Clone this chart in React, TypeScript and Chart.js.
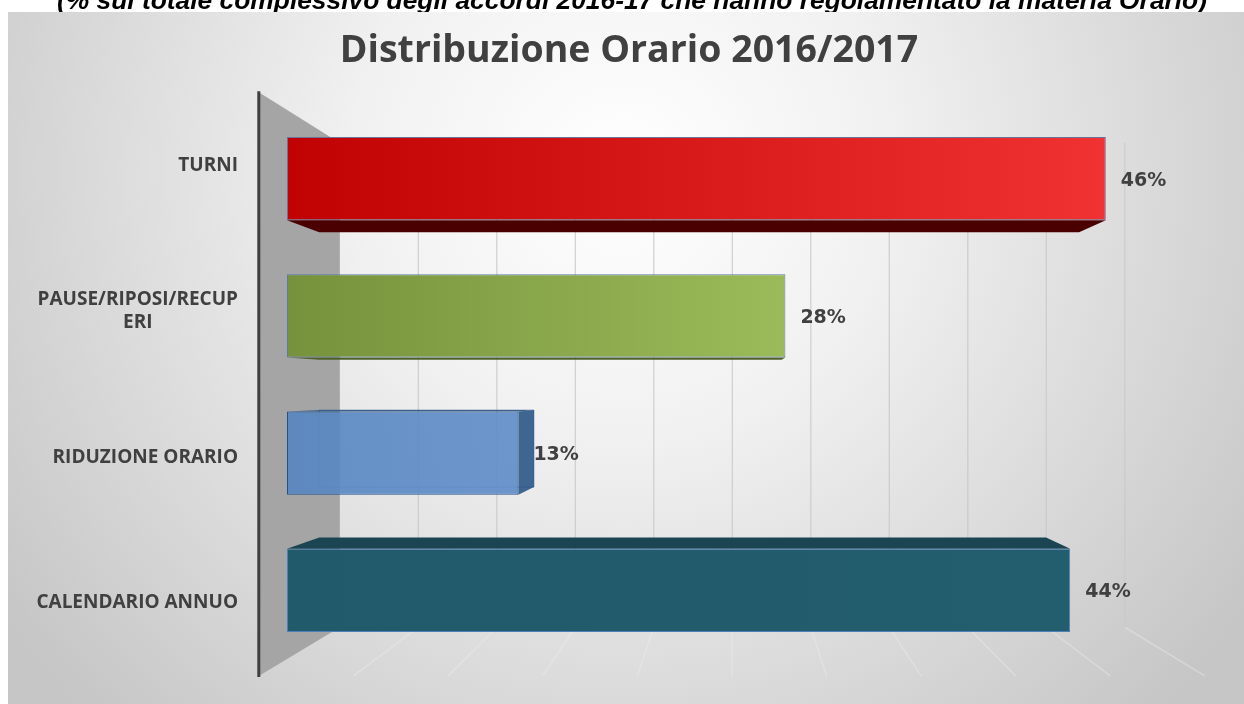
import React, { useEffect, useRef } from "react";
import { Chart, registerables } from "chart.js";

Chart.register(...registerables);

// ---- data ----
const categories: string[][] = [
  ["TURNI"],
  ["PAUSE/RIPOSI/RECUP", "ERI"],
  ["RIDUZIONE ORARIO"],
  ["CALENDARIO ANNUO"],
];
const values: number[] = [46, 28, 13, 44];
const gridValues: number[] = [5, 10, 15, 20, 25, 30, 35, 40, 45, 50];
const axisMax = 50;
const titleText = "Distribuzione Orario 2016/2017";
const headerText =
  "(% sul totale complessivo degli accordi 2016-17 che hanno regolamentato la materia Orario)";

// ---- styles ----
const gradStart = ["#c10202", "#76923c", "#5686c2", "#215a6a"];
const gradEnd = ["#f03232", "#9bbb59", "#5e8dc8", "#235e6e"];
const borderCols = ["#6a7498", "#5d7aa6", "#24508a", "#4f7fb8"];
const sideCols = ["#4a0000", "#4e6128", "#3f6591", "#1b4552"];
const frontAlpha = [1, 1, 0.9, 1];

const S_FRONT = 1.063;
const S_BACK = 0.882;
const S_BAR_BACK = 0.928;

function centerOf(ca: any) {
  return {
    cx: ca.left + 0.503 * (ca.right - ca.left),
    cy: ca.top + 0.51 * (ca.bottom - ca.top),
  };
}
function proj(ca: any, x: number, y: number, s: number): [number, number] {
  const { cx, cy } = centerOf(ca);
  return [cx + s * (x - cx), cy + s * (y - cy)];
}
function poly(ctx: CanvasRenderingContext2D, pts: [number, number][], fill: string) {
  ctx.beginPath();
  ctx.moveTo(pts[0][0], pts[0][1]);
  for (let i = 1; i < pts.length; i++) ctx.lineTo(pts[i][0], pts[i][1]);
  ctx.closePath();
  ctx.fillStyle = fill;
  ctx.fill();
}

const scenePlugin = {
  id: "scene3d",
  beforeDraw(chart: any) {
    const ctx: CanvasRenderingContext2D = chart.ctx;
    const W = chart.width;
    const H = chart.height;
    ctx.save();
    ctx.fillStyle = "#ffffff";
    ctx.fillRect(0, 0, W, H);
    // header (cut off by the picture panel)
    ctx.font = "italic bold 25px 'Liberation Sans'";
    ctx.fillStyle = "#000000";
    ctx.textAlign = "center";
    ctx.textBaseline = "alphabetic";
    const hw = ctx.measureText(headerText).width;
    ctx.save();
    ctx.translate(632, 9);
    ctx.scale(1150 / hw, 1);
    ctx.fillText(headerText, 0, 0);
    ctx.restore();
    // panel background
    const g = ctx.createRadialGradient(622, 170, 0, 622, 170, 760);
    g.addColorStop(0, "#ffffff");
    g.addColorStop(0.35, "#f1f1f1");
    g.addColorStop(1, "#c6c6c6");
    ctx.fillStyle = g;
    ctx.fillRect(8, 12, W - 8, H - 12);
    // title
    ctx.font = "bold 37.5px 'Open Sans'";
    ctx.fillStyle = "#404040";
    ctx.textBaseline = "middle";
    ctx.fillText(titleText, 629, 51);
    ctx.restore();
  },
  beforeDatasetsDraw(chart: any) {
    const ctx: CanvasRenderingContext2D = chart.ctx;
    const ca = chart.chartArea;
    const xs = chart.scales.x;
    ctx.save();
    // back plane grid lines + floor lines
    for (const v of gridValues) {
      const px = xs.getPixelForValue(v);
      const bt = proj(ca, px, ca.top, S_BACK);
      const bb = proj(ca, px, ca.bottom, S_BACK);
      const fb = proj(ca, px, ca.bottom, S_FRONT);
      ctx.strokeStyle = "rgba(200,200,200,0.85)";
      ctx.lineWidth = 1.2;
      ctx.beginPath();
      ctx.moveTo(bt[0], bt[1]);
      ctx.lineTo(bb[0], bb[1]);
      ctx.stroke();
      ctx.strokeStyle = "rgba(238,238,238,0.4)";
      ctx.lineWidth = 1.5;
      ctx.beginPath();
      ctx.moveTo(bb[0], bb[1]);
      ctx.lineTo(fb[0], fb[1]);
      ctx.stroke();
    }
    // left wall
    const x0 = xs.getPixelForValue(0);
    const ft = proj(ca, x0, ca.top, S_FRONT);
    const fbm = proj(ca, x0, ca.bottom, S_FRONT);
    const bt = proj(ca, x0, ca.top, S_BACK);
    const bb = proj(ca, x0, ca.bottom, S_BACK);
    poly(ctx, [ft, bt, bb, fbm], "#a5a5a5");
    // axis line
    ctx.strokeStyle = "#3f3f3f";
    ctx.lineWidth = 3;
    ctx.beginPath();
    ctx.moveTo(ft[0], ft[1] - 1);
    ctx.lineTo(fbm[0], fbm[1] + 1);
    ctx.stroke();

    // bar depth faces
    const { cx, cy } = centerOf(ca);
    const meta = chart.getDatasetMeta(0);
    meta.data.forEach((el: any, i: number) => {
      const p = el.getProps(["x", "y", "base", "height"], true);
      const xa = Math.min(p.base, p.x);
      const xb = Math.max(p.base, p.x);
      const ya = p.y - p.height / 2;
      const yb = p.y + p.height / 2;
      const b00 = proj(ca, xa, ya, S_BAR_BACK);
      const b10 = proj(ca, xb, ya, S_BAR_BACK);
      const b01 = proj(ca, xa, yb, S_BAR_BACK);
      const b11 = proj(ca, xb, yb, S_BAR_BACK);
      const col = sideCols[i];
      if (yb < cy) poly(ctx, [[xa, yb], [xb, yb], b11, b01], col);
      if (ya > cy) poly(ctx, [[xa, ya], [xb, ya], b10, b00], col);
      if (xb < cx) poly(ctx, [[xb, ya], [xb, yb], b11, b10], col);
      if (frontAlpha[i] < 1) {
        // back edges seen through a translucent front
        ctx.strokeStyle = "rgba(40,80,140,0.45)";
        ctx.lineWidth = 1;
        ctx.beginPath();
        ctx.moveTo(b00[0], b00[1]);
        ctx.lineTo(b10[0], b10[1]);
        ctx.lineTo(b11[0], b11[1]);
        ctx.lineTo(b01[0], b01[1]);
        ctx.closePath();
        ctx.stroke();
      }
    });
    ctx.restore();
  },
  afterDatasetsDraw(chart: any) {
    const ctx: CanvasRenderingContext2D = chart.ctx;
    const ca = chart.chartArea;
    const ys = chart.scales.y;
    ctx.save();
    // value labels
    const meta = chart.getDatasetMeta(0);
    ctx.font = "bold 19px 'DejaVu Sans'";
    ctx.fillStyle = "#404040";
    ctx.textAlign = "left";
    ctx.textBaseline = "middle";
    meta.data.forEach((el: any, i: number) => {
      const p = el.getProps(["x", "y"], true);
      ctx.fillText(values[i] + "%", p.x + 15, p.y + 2);
    });
    // category labels on the front plane
    ctx.font = "bold 19px 'Open Sans'";
    ctx.textAlign = "center";
    categories.forEach((lines, i) => {
      const py = ys.getPixelForValue(i);
      const fy = proj(ca, ca.left, py, S_FRONT)[1];
      const maxW = Math.max(...lines.map((l) => ctx.measureText(l).width));
      const xcen = 238 - maxW / 2;
      const lh = 23;
      lines.forEach((l, k) => {
        ctx.fillText(l, xcen, fy + (k - (lines.length - 1) / 2) * lh);
      });
    });
    ctx.restore();
  },
};

function hexA(hex: string, a: number) {
  const n = parseInt(hex.slice(1), 16);
  return `rgba(${(n >> 16) & 255},${(n >> 8) & 255},${n & 255},${a})`;
}

export default function App() {
  const ref = useRef<HTMLCanvasElement | null>(null);
  useEffect(() => {
    if (!ref.current) return;
    const chart = new Chart(ref.current, {
      type: "bar",
      data: {
        labels: categories.map((c) => c.join("")),
        datasets: [
          {
            data: values,
            backgroundColor: (c: any) => {
              const ca = c.chart.chartArea;
              const i = c.dataIndex;
              if (!ca) return gradStart[i];
              const xs = c.chart.scales.x;
              const x0 = xs.getPixelForValue(0);
              const x1 = xs.getPixelForValue(values[i]);
              const g = c.chart.ctx.createLinearGradient(x0, 0, x1, 0);
              g.addColorStop(0, hexA(gradStart[i], frontAlpha[i]));
              g.addColorStop(1, hexA(gradEnd[i], frontAlpha[i]));
              return g;
            },
            borderColor: borderCols,
            borderWidth: 1,
            borderSkipped: false,
            barPercentage: 0.605,
            categoryPercentage: 1,
          },
        ],
      },
      options: {
        indexAxis: "y",
        animation: false,
        responsive: false,
        devicePixelRatio: 1,
        layout: { padding: { left: 287, right: 67, top: 110, bottom: 45 } },
        scales: {
          x: { display: false, min: 0, max: axisMax },
          y: { display: false },
        },
        plugins: {
          legend: { display: false },
          tooltip: { enabled: false },
          title: { display: false },
        },
      },
      plugins: [scenePlugin],
    });
    return () => chart.destroy();
  }, []);
  return (
    <div style={{ position: "fixed", left: 0, top: 0, width: 1244, height: 704 }}>
      <canvas ref={ref} width={1244} height={704} style={{ display: "block" }} />
    </div>
  );
}
